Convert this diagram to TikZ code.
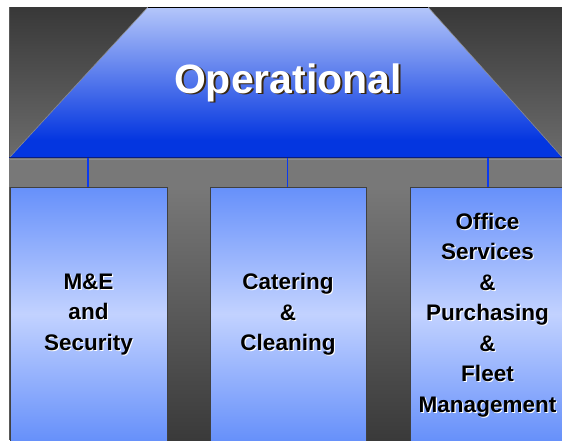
\documentclass[tikz,border=0pt]{standalone}
\usepackage{fontspec}
\setmainfont{Liberation Sans}
\definecolor{bgtop}{HTML}{383838}
\definecolor{bgbot}{HTML}{6C6C6C}
\definecolor{band}{HTML}{787878}
\definecolor{pilbot}{HTML}{3A3A3A}
\definecolor{trtop}{HTML}{B4C6FA}
\definecolor{trbot}{HTML}{0436E0}
\definecolor{boxedge}{HTML}{6690FA}
\definecolor{boxmid}{HTML}{C2D2FF}
\definecolor{sepblue}{HTML}{0A3AF0}
\definecolor{navy}{HTML}{0A1E80}
\definecolor{titleshadow}{HTML}{3A2810}
\begin{document}
\begin{tikzpicture}[x=1pt,y=-1pt,
  boxtext/.style={align=center,inner sep=0pt,font=\fontsize{22.5}{30.5}\selectfont\bfseries,text=black},
  boxshadow/.style={boxtext,text=white},
  titletext/.style={inner sep=0pt,font=\fontsize{41}{48}\selectfont\bfseries,text=white},
  titleshadow/.style={titletext,text=titleshadow},
  pillar/.style={top color=band,bottom color=pilbot},
  unitbox/.style={top color=boxedge,bottom color=boxedge,middle color=boxmid,draw=black!75,line width=0.7pt},
  sep/.style={draw=sepblue,line width=1.4pt}]
\useasboundingbox (0,0) rectangle (562,440);
% background
\shade[top color=bgtop,bottom color=bgbot] (9,7) rectangle (562,157);
\draw[black!65,line width=0.8pt] (9.4,7) -- (9.4,440);
% roof
\begin{scope}
\clip (148,7) -- (428,7) -- (562,157) -- (10,157) -- cycle;
\shade[top color=trtop,bottom color=trbot] (9,7) rectangle (562,140);
\fill[trbot] (9,139.5) rectangle (562,157);
\end{scope}
\draw[black!45,line width=0.6pt] (10,157) -- (148,7);
\draw[black!45,line width=0.6pt] (428,7) -- (562,157);
\draw[black,line width=0.8pt] (148,7) -- (428,7);
% beam
\fill[band] (9,157) rectangle (562,187);
\draw[black!45,line width=0.6pt] (10,159) -- (562,159);
\draw[navy,line width=1.6pt] (9,157.3) -- (562,157.3);
\coordinate (s1t) at (88,158); \coordinate (s1b) at (88,187);
\coordinate (s2t) at (287.5,158); \coordinate (s2b) at (287.5,187);
\coordinate (s3t) at (488,158); \coordinate (s3b) at (488,187);
\draw[sep] (s1t) -- (s1b);
\draw[sep] (s2t) -- (s2b);
\draw[sep] (s3t) -- (s3b);
% pillars
\shade[pillar] (167,187) rectangle (210,440);
\shade[pillar] (366,187) rectangle (410,440);
% boxes
\shadedraw[unitbox] (10.4,187) rectangle (167,441);
\shadedraw[unitbox] (210,187) rectangle (366.5,441);
\shadedraw[unitbox] (410,187) rectangle (563,441);
% title
\node[titleshadow] (tts) at (290,84) {Operational};
\node[titletext] (tt) at (288,82.5) {Operational};
% box texts
\node[boxshadow] (mes) at (89.6,315.4) {M\&E\\and\\Security};
\node[boxtext] (me) at (88.5,314.3) {M\&E\\and\\Security};
\node[boxshadow] (ccs) at (289.1,315.4) {Catering\\\&\\Cleaning};
\node[boxtext] (cc) at (288,314.3) {Catering\\\&\\Cleaning};
\node[boxshadow] (ofs) at (488.6,315.9) {Office\\Services\\\&\\Purchasing\\\&\\Fleet\\Management};
\node[boxtext] (of) at (487.5,314.8) {Office\\Services\\\&\\Purchasing\\\&\\Fleet\\Management};
\end{tikzpicture}
\end{document}
